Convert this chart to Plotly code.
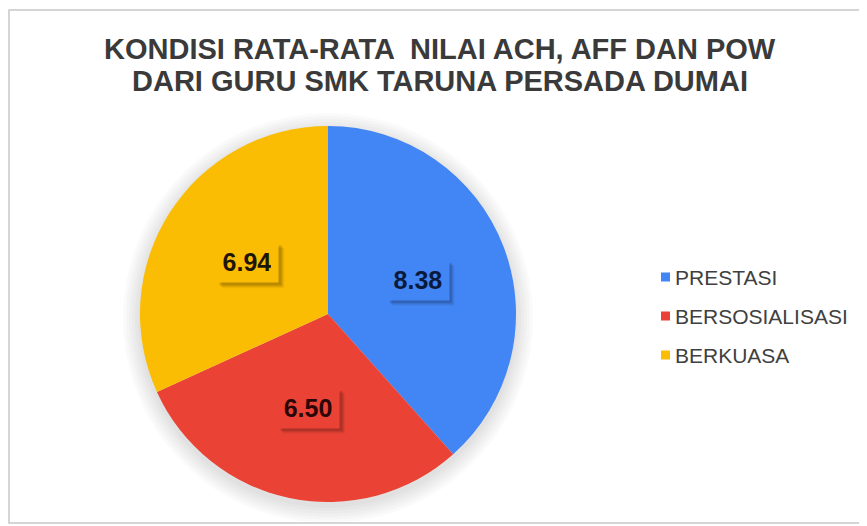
import math
import plotly.graph_objects as go

# data
categories = ["PRESTASI", "BERSOSIALISASI", "BERKUASA"]
values = [8.38, 6.50, 6.94]
value_labels = ["8.38", "6.50", "6.94"]
title_lines = ["KONDISI RATA-RATA  NILAI ACH, AFF DAN POW", "DARI GURU SMK TARUNA PERSADA DUMAI"]

COLORS = ["#4285F4", "#EA4335", "#FBBC04"]
TEXT_COLORS = ["#0B1A3A", "#2A0606", "#1E1608"]

# the page body adds an 8px margin, so the figure is a bit smaller than the window
W, H = 859, 518
# pie domain in pixels (left, right, top, bottom)
PX0, PX1, PY0, PY1 = 132, 508, 117, 495
dom_x = [PX0 / W, PX1 / W]
dom_y = [1 - PY1 / H, 1 - PY0 / H]


def to_paper(px, py):
    return px / W, 1 - py / H


def paper_rect(x0, y0, x1, y1, **kw):
    a, b = to_paper(x0, y1)
    c, d = to_paper(x1, y0)
    fig.add_shape(type="rect", xref="paper", yref="paper", x0=a, y0=b, x1=c, y1=d, **kw)


fig = go.Figure(
    go.Pie(
        labels=categories,
        values=values,
        sort=False,
        direction="clockwise",
        rotation=0,
        marker=dict(colors=COLORS, line=dict(width=0)),
        textinfo="none",
        hoverinfo="label+value",
        domain=dict(x=dom_x, y=dom_y),
        showlegend=False,
    )
)

cx = (PX0 + PX1) / 2
cy = (PY0 + PY1) / 2
r = min(PX1 - PX0, PY1 - PY0) / 2

# soft halo behind the pie
for k in range(6):
    rr = r + 2 + k * 3
    x0, y0 = to_paper(cx - rr, cy + 4 - rr)
    x1, y1 = to_paper(cx + rr, cy + 4 + rr)
    fig.add_shape(type="circle", xref="paper", yref="paper",
                  x0=x0, y0=y1, x1=x1, y1=y0,
                  fillcolor="rgba(0,0,0,0.018)", line=dict(width=0), layer="below")

# value boxes placed at the middle angle of each slice
total = sum(values)
start = 0.0
for v, lab, col, tcol in zip(values, value_labels, COLORS, TEXT_COLORS):
    mid = (start + v / 2) / total * 2 * math.pi
    start += v
    px = cx + 0.51 * r * math.sin(mid)
    py = cy - 0.51 * r * math.cos(mid)
    # blurred drop shadow
    for sh, alpha in [(6, 0.04), (5, 0.06), (4, 0.08), (3, 0.1)]:
        paper_rect(px - 31 + sh, py - 20 + sh, px + 31 + sh, py + 20 + sh,
                   fillcolor=f"rgba(0,0,0,{alpha})", line=dict(width=0), layer="above")
    ax, ay = to_paper(px, py)
    fig.add_annotation(
        x=ax, y=ay, xref="paper", yref="paper", showarrow=False,
        xanchor="center", yanchor="middle",
        text=f"<b>{lab}</b>", font=dict(family="Arial", size=25, color=tcol),
        bgcolor=col, borderpad=7, width=48, height=26,
    )

# title, two lines
for i, line in enumerate(title_lines):
    tx, ty = to_paper(432, 41 + 32 * i)
    fig.add_annotation(
        x=tx, y=ty, xref="paper", yref="paper", showarrow=False,
        xanchor="center", yanchor="middle",
        text=f"<b>{line}</b>",
        font=dict(family="Arial", size=29, color="#3A3A3A"),
    )

# legend
for i, (cat, col) in enumerate(zip(categories, COLORS)):
    ly = 269 + 39 * i
    paper_rect(653, ly - 4.5, 662, ly + 4.5, fillcolor=col, line=dict(width=0))
    tx, ty = to_paper(665, ly)
    fig.add_annotation(
        x=tx, y=ty, xref="paper", yref="paper", showarrow=False,
        xanchor="left", yanchor="middle", text=cat,
        font=dict(family="Arial", size=21, color="#404040"),
    )

# outer border of the chart area
paper_rect(1, 2, 856, 515, line=dict(color="#C8C8C8", width=1.5), layer="below")

fig.update_layout(
    width=W,
    height=H,
    margin=dict(l=0, r=0, t=0, b=0),
    paper_bgcolor="white",
    plot_bgcolor="white",
    showlegend=False,
)

fig.write_html("out.html")
